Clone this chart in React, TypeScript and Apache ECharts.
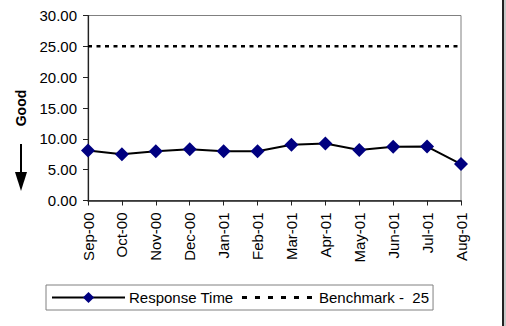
import React, { useEffect, useRef } from "react";
import * as echarts from "echarts";

const categories = ["Sep-00", "Oct-00", "Nov-00", "Dec-00", "Jan-01", "Feb-01", "Mar-01", "Apr-01", "May-01", "Jun-01", "Jul-01", "Aug-01"];
const responseTime = [8.1, 7.5, 8.0, 8.3, 8.0, 8.0, 9.05, 9.25, 8.2, 8.7, 8.75, 5.9];
const benchmark = [25, 25, 25, 25, 25, 25, 25, 25, 25, 25, 25, 25];
const seriesNames = ["Response Time", "Benchmark -  25"];
const yMin = 0;
const yMax = 30;
const yInterval = 5;
const axisTitle = "Good";

const FONT = "'Liberation Sans', Arial, sans-serif";

export default function App() {
  const ref = useRef<HTMLDivElement>(null);
  useEffect(() => {
    if (!ref.current) return;
    const chart = echarts.init(ref.current, null, { renderer: "svg" });
    chart.setOption({
      animation: false,
      backgroundColor: "#ffffff",
      textStyle: { fontFamily: FONT },
      grid: {
        left: 88,
        right: 45,
        top: 15.5,
        bottom: 125.5,
        show: true,
        borderColor: "#808080",
        borderWidth: 1,
        backgroundColor: "transparent",
      },
      xAxis: {
        type: "category",
        data: categories,
        boundaryGap: false,
        axisLine: { lineStyle: { color: "#222", width: 1.5 } },
        axisTick: { show: true, length: 5, lineStyle: { color: "#222" } },
        axisLabel: { rotate: 90, margin: 12, color: "#000", fontSize: 15, fontFamily: FONT, interval: 0 },
        splitLine: { show: false },
      },
      yAxis: {
        type: "value",
        min: yMin,
        max: yMax,
        interval: yInterval,
        axisLine: { show: true, lineStyle: { color: "#222", width: 1.2 } },
        axisTick: { show: true, length: 5, lineStyle: { color: "#222" } },
        axisLabel: { margin: 11, color: "#000", fontSize: 15, fontFamily: FONT, formatter: (v: number) => v.toFixed(2) },
        splitLine: { show: false },
      },
      legend: {
        left: 46,
        top: 285,
        orient: "horizontal",
        padding: [5, 4, 5, 5],
        itemWidth: 73,
        itemHeight: 14,
        itemGap: 7,
        borderColor: "#808080",
        borderWidth: 1,
        textStyle: { color: "#000", fontSize: 15, fontFamily: FONT, padding: [0, 0, 0, -1] },
        data: [
          { name: seriesNames[0] },
          { name: seriesNames[1], itemStyle: { opacity: 0 }, lineStyle: { type: [5, 8], width: 3 } },
        ],
      },
      series: [
        {
          name: seriesNames[0],
          type: "line",
          data: responseTime,
          symbol: "diamond",
          symbolSize: 14,
          lineStyle: { color: "#000", width: 2 },
          itemStyle: { color: "#000080" },
          z: 3,
        },
        {
          name: seriesNames[1],
          type: "line",
          data: benchmark,
          symbol: "none",
          lineStyle: { color: "#000", width: 2.5, type: [4, 4.5] },
          itemStyle: { color: "#000" },
          z: 2,
        },
      ],
      graphic: [
        {
          type: "text",
          x: 21,
          y: 108,
          rotation: Math.PI / 2,
          style: { text: axisTitle, font: `bold 14px ${FONT}`, fill: "#000", align: "center", verticalAlign: "middle" },
        },
        {
          type: "line",
          shape: { x1: 21, y1: 144, x2: 21, y2: 174 },
          style: { stroke: "#000", lineWidth: 2 },
        },
        {
          type: "polygon",
          shape: { points: [[15, 172], [27, 172], [21, 191]] },
          style: { fill: "#000" },
        },
        {
          type: "rect",
          shape: { x: 502, y: 0, width: 2, height: 326 },
          style: { fill: "#222" },
        },
        {
          type: "rect",
          shape: { x: 504, y: 0, width: 2, height: 326 },
          style: { fill: "#c8c8c8" },
        },
      ],
    });
    return () => chart.dispose();
  }, []);
  return <div ref={ref} style={{ position: "fixed", left: 0, top: 0, width: 506, height: 326 }} />;
}
